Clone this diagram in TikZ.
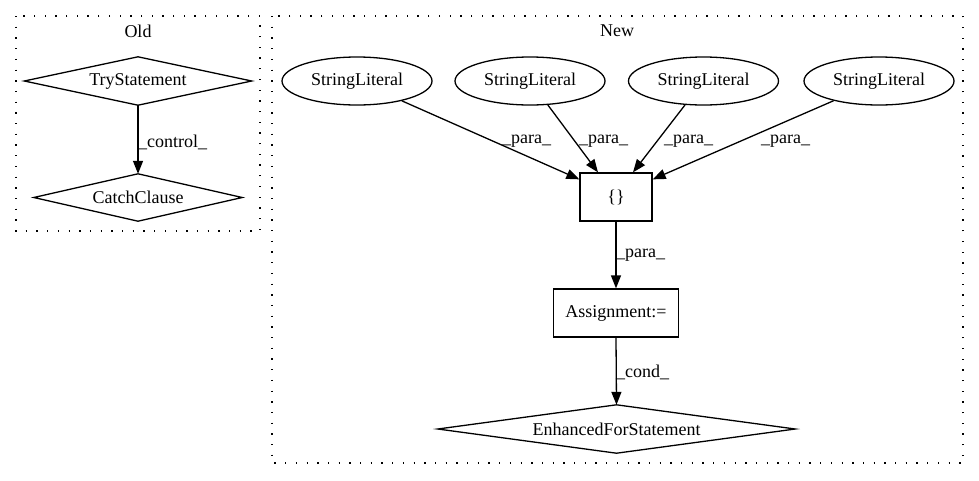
\documentclass[tikz,border=0pt]{standalone}
\usepackage{fontspec}
\setmainfont{Liberation Serif}
\usetikzlibrary{arrows.meta,shapes.geometric}
\begin{document}
\begin{tikzpicture}[x=1pt,y=-1pt,
  every node/.style={font=\fontsize{18}{21}\selectfont},
  cluster/.style={draw, line width=1.3pt, dash pattern=on 1.3pt off 9.4pt},
  box/.style={draw, line width=1.3pt, rectangle, inner sep=0pt},
  ell/.style={draw, line width=1.3pt, ellipse, minimum width=150pt, minimum height=48pt, inner sep=0pt},
  dmd/.style={rectangle, inner sep=0pt},
  outl/.style={line width=1.3pt},
  edge/.style={line width=1.3pt, -{Triangle[length=13pt,width=10pt]}},
  lbl/.style={anchor=west, inner sep=0pt}]
\useasboundingbox (0,0) rectangle (979,480);
% clusters
\draw[cluster] (16,16) rectangle (260,231);
\node[inner sep=0pt] (oldlbl) at (138,31) {Old};
\draw[cluster] (272,16) rectangle (963,463);
\node[inner sep=0pt] (newlbl) at (617,31) {New};
% Old
\node[dmd, minimum width=227pt, minimum height=48pt] (try) at (138,81) {TryStatement};
\draw[outl] (try.west)--(try.north)--(try.east)--(try.south)--cycle;
\node[dmd, minimum width=208pt, minimum height=47pt] (catch) at (138,197.5) {CatchClause};
\draw[outl] (catch.west)--(catch.north)--(catch.east)--(catch.south)--cycle;
\draw[edge] (try.south) -- (catch.north);
\node[lbl] (lc) at (138,142) {\_control\_};
% New
\node[ell] (s1) at (357,81) {StringLiteral};
\node[ell] (s2) at (530,81) {StringLiteral};
\node[ell] (s3) at (703.5,81) {StringLiteral};
\node[ell] (s4) at (879,81) {StringLiteral};
\node[box, minimum width=72pt, minimum height=48pt] (br) at (616,197) {\{\}};
\node[box, minimum width=125pt, minimum height=48pt] (asg) at (616,313) {Assignment:=};
\node[dmd, minimum width=357pt, minimum height=48pt] (efs) at (616.5,429) {EnhancedForStatement};
\draw[outl] (efs.west)--(efs.north)--(efs.east)--(efs.south)--cycle;
\coordinate (t1) at ([yshift=-7pt]br.north west);
\coordinate (t2) at ([xshift=-18pt]br.north);
\coordinate (t3) at ([xshift=17pt]br.north);
\coordinate (t4) at ([yshift=-7pt]br.north east);
\draw[edge] (s1) -- (t1);
\draw[edge] (s2) -- (t2);
\draw[edge] (s3) -- (t3);
\draw[edge] (s4) -- (t4);
\draw[edge] (br.south) -- (asg.north);
\draw[edge] (asg.south) -- (efs.north);
\node[lbl] (l1) at (502,141) {\_para\_};
\node[lbl] (l2) at (579,141) {\_para\_};
\node[lbl] (l3) at (664,141) {\_para\_};
\node[lbl] (l4) at (761,141) {\_para\_};
\node[lbl] (l5) at (616,255) {\_para\_};
\node[lbl] (l6) at (616,372) {\_cond\_};
\end{tikzpicture}
\end{document}
